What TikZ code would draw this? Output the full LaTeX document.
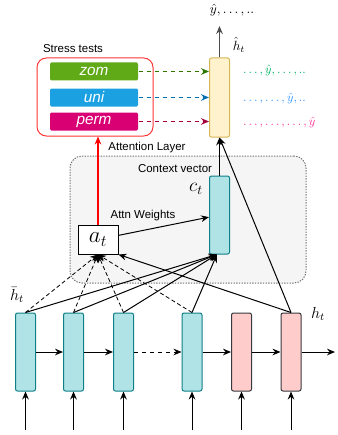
\documentclass[tikz,border=0pt]{standalone}
\usepackage{fontspec}
\setsansfont{Liberation Sans}
\usepackage{amsmath, amssymb}
\usetikzlibrary{arrows.meta}
\tikzset{every picture/.style={line width=0.75pt}}

\definecolor{hidfill}{HTML}{B0E3E6}
\definecolor{hiddraw}{HTML}{0E8088}
\definecolor{decfill}{HTML}{FFCCCC}
\definecolor{decdraw}{HTML}{36393D}
\definecolor{outfill}{HTML}{FFF2CC}
\definecolor{outdraw}{HTML}{D6B656}
\definecolor{zomcol}{HTML}{60A917}
\definecolor{unicol}{HTML}{1BA1E2}
\definecolor{permcol}{HTML}{D80073}
\definecolor{zomarr}{HTML}{2D7600}
\definecolor{uniarr}{HTML}{006EAF}
\definecolor{permarr}{HTML}{A50040}
\definecolor{zomtxt}{HTML}{00B366}
\definecolor{unitxt}{HTML}{3399FF}
\definecolor{permtxt}{HTML}{FF3399}

\tikzset{
  hidbox/.style={draw=hiddraw, fill=hidfill, rounded corners=1.5pt, minimum width=15pt, minimum height=58.5pt, inner sep=0pt},
  decbox/.style={hidbox, draw=decdraw, fill=decfill},
  outbox/.style={hidbox, draw=outdraw, fill=outfill},
  testbar/.style={fill=#1, rounded corners=1pt, minimum width=66pt, minimum height=13.5pt, inner sep=0pt, text=white, font=\sffamily\itshape\fontsize{11.5}{12}\selectfont},
  lbl/.style={inner sep=0.75pt, font=\sffamily\fontsize{8.6}{10}\selectfont},
  seq/.style={anchor=west, inner sep=0.5pt, text=#1, font=\fontsize{9}{10}\selectfont},
  arr/.style={-{Stealth[length=6pt,width=5pt,inset=2pt]}},
}

\begin{document}
\begin{tikzpicture}[x=0.75pt,y=0.75pt,yscale=-1,xscale=1]
\path[use as bounding box] (0,0) rectangle (337,435);

%Shape: Attention layer
\node [draw=black!55, fill=black!4, dash pattern=on 1pt off 1pt, rounded corners=9pt, minimum width=177pt, minimum height=95.25pt] (layer) at (188,219.5) {};
%Shape: Stress tests box
\node [draw={rgb, 255:red, 255; green, 51; blue, 51}, rounded corners=7pt, minimum width=87pt, minimum height=58.5pt] (stress) at (95,97) {};

% Stress test bars
\node [testbar=zomcol] (zom) at (94,71.5) {zom};
\node [testbar=unicol] (uni) at (94,97.5) {uni};
\node [testbar=permcol] (perm) at (94,121.5) {perm};

% Recurrent cells
\node [hidbox] (h1) at (25.5,352) {};
\node [hidbox] (h2) at (73.5,352) {};
\node [hidbox] (h3) at (123.5,352) {};
\node [hidbox] (h4) at (192,352) {};
\node [decbox] (h5) at (241.5,352) {};
\node [decbox] (h6) at (291,352) {};

% Context vector, attention weights, output
\node [hidbox] (ct) at (219.5,215) {};
\node [outbox, minimum height=59.25pt] (yt) at (219.5,97.5) {};
\node [draw, fill=white, minimum width=30pt, minimum height=21.75pt, inner sep=0pt, font=\LARGE] (at) at (98,239.5) {$a_t$};

\coordinate (top) at (219.5,26);
\coordinate (out) at (335,352);
\foreach \i in {1,...,6} \coordinate (in\i) at (h\i.south |- 0,430);

% Text Node
\node [lbl] (lstress) at (73,49) {Stress tests};
\node [lbl] (llayer) at (147,148) {Attention Layer};
\node [lbl] (lctx) at (175,169) {Context vector};
\node [lbl] (lweights) at (143,216) {Attn Weights};
\node [font=\Large, inner sep=0.75pt] (lct) at (196,189) {$c_t$};
\node [inner sep=0.5pt] (lht) at (239,45) {$\hat{h}_t$};
\node [inner sep=0.5pt] (lyhat) at (232,10) {$\hat{y},\ldots,..$};
\node [font=\large, inner sep=0.75pt] (lhbar) at (17,295) {$\bar{h}_t$};
\node [font=\large, inner sep=0.75pt] (lhlast) at (318,314) {$h_t$};
\node [seq=zomtxt] (lzom) at (242,71) {$\ldots,\hat{y},\ldots,..$};
\node [seq=unitxt] (luni) at (242,98) {$\ldots,\ldots,\hat{y},..$};
\node [seq=permtxt] (lperm) at (242,122) {$\ldots,\ldots,\ldots,\hat{y}$};

% Inputs and recurrence
\foreach \i in {1,...,6} \draw [arr] (in\i) -- (h\i.south);
\draw [arr] (h1) -- (h2);
\draw [arr] (h2) -- (h3);
\draw [arr, dashed] (h3) -- (h4);
\draw [arr] (h4) -- (h5);
\draw [arr] (h5) -- (h6);
\draw [arr] (h6) -- (out);

% Attention
\foreach \i in {1,...,4} \draw [arr, densely dashed, line width=0.6pt] (h\i.north) -- (at.south);
\foreach \i in {1,...,4} \draw [arr] (h\i.north) -- ([xshift=-2pt]ct.south);
\draw [arr] (h6.north) -- (at.south east);
\draw [arr] (at) -- (ct);
\draw [arr] (ct.north) -- (yt.south);
\draw [arr] (h6.north) -- (yt.south);
\draw [arr, black!70] (yt.north) -- (top);
\draw [arr, red, line width=1.5pt] (at.north) -- (at.north |- stress.south);

% Stress tests into output
\draw [arr, dashed, zomarr] (zom) -- (zom -| yt.west);
\draw [arr, dashed, uniarr] (uni) -- (uni -| yt.west);
\draw [arr, dashed, permarr] (perm) -- (perm -| yt.west);

\end{tikzpicture}
\end{document}
